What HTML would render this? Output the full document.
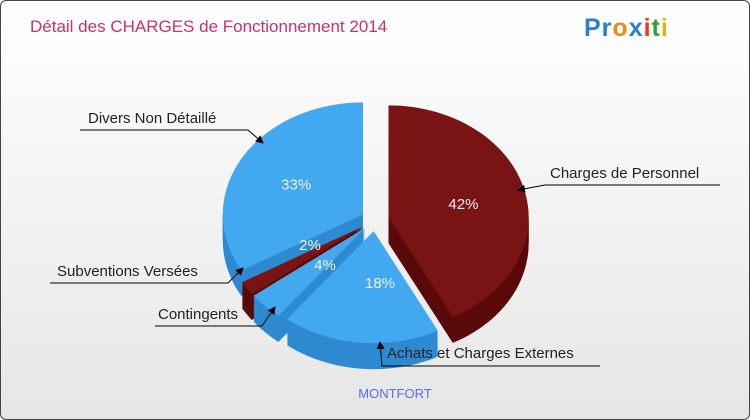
<!DOCTYPE html>
<html><head><meta charset="utf-8"><style>
body{margin:0;width:750px;height:420px;overflow:hidden;font-family:"Liberation Sans",sans-serif}
#wrap{position:absolute;left:0;top:0;width:748px;height:418px;border:1px solid #444;border-radius:6px;background:linear-gradient(#ffffff,#e6e6e6)}
</style></head><body>
<div id="wrap">
<svg width="750" height="420" style="position:absolute;left:-1px;top:-1px" id="svg">
<defs><marker id="ar" markerWidth="8" markerHeight="8" refX="7" refY="4" orient="auto"><path d="M0,0 L8,4 L0,8 z" fill="#000"/></marker></defs>
<text x="30" y="32" font-size="17" fill="#c8336a">Détail des CHARGES de Fonctionnement 2014</text>
<text x="584" y="36" font-size="25" font-weight="bold" letter-spacing="1"><tspan fill="#2a7fd0">Pr</tspan><tspan fill="#f08a10">o</tspan><tspan fill="#2a7fd0">x</tspan><tspan fill="#e83a1a">i</tspan><tspan fill="#2aa03a">t</tspan><tspan fill="#e8b010">i</tspan></text>
<text x="395" y="398" font-size="13" fill="#5a6ee6" text-anchor="middle">MONTFORT</text>
<g id="pie"></g><g id="lbl"></g>
</svg></div>
<script>
const categories=["Charges de Personnel","Achats et Charges Externes","Contingents","Subventions Versées","Divers Non Détaillé"];
const values=[42,18,4,2,33];
const pctLabels=["42%","18%","4%","2%","33%"];
const colors=["#7a1414","#42a8f0","#42a8f0","#7a1414","#42a8f0"];
const sideColors=["#5a0a0a","#2f8ad0","#2f8ad0","#5a0a0a","#2f8ad0"];
const cx=375,cy=220,rx=140,ry=112,depth=26,ex=14;
const NS="http://www.w3.org/2000/svg";
const pie=document.getElementById('pie'),lbl=document.getElementById('lbl');
const total=values.reduce((a,b)=>a+b,0);
let a=-Math.PI/2;const sl=[];
values.forEach((v,i)=>{const s=a,e=a+v/total*2*Math.PI;a=e;const m=(s+e)/2;
sl.push({i,s,e,m,ox:Math.cos(m)*ex,oy:Math.sin(m)*ex*0.8});});
function path(d,dy){let p=`M${cx+d.ox},${cy+d.oy+dy}`;const n=60;
for(let k=0;k<=n;k++){const t=d.s+(d.e-d.s)*k/n;p+=` L${cx+d.ox+rx*Math.cos(t)},${cy+d.oy+dy+ry*Math.sin(t)}`;}return p+'Z';}
[...sl].sort((x,y)=>Math.sin(x.m)-Math.sin(y.m)).forEach(d=>{
for(let y=depth;y>0;y-=1){const p=document.createElementNS(NS,'path');p.setAttribute('d',path(d,y));p.setAttribute('fill',sideColors[d.i]);


pie.appendChild(p);}});
sl.forEach(d=>{const p=document.createElementNS(NS,'path');p.setAttribute('d',path(d,0));p.setAttribute('fill',colors[d.i]);


pie.appendChild(p);
const f=d.i==0||d.i==4?0.55:0.5;
const t=document.createElementNS(NS,'text');t.setAttribute('x',cx+d.ox+rx*f*Math.cos(d.m));t.setAttribute('y',cy+d.oy+ry*f*Math.sin(d.m)+6);
t.setAttribute('fill','#f0f0f0');t.setAttribute('font-size','15');t.setAttribute('text-anchor','middle');t.textContent=pctLabels[d.i];


lbl.appendChild(t);});
const pl=lbl.querySelectorAll('text');pl[3].setAttribute('x',310);pl[3].setAttribute('y',250);pl[2].setAttribute('x',325);pl[2].setAttribute('y',270);pl[1].setAttribute('x',380);pl[1].setAttribute('y',288);
const callouts=[
{t:categories[0],x:550,y:178,line:[[720,185],[545,185],[518,190]]},
{t:categories[1],x:387,y:358,line:[[600,366],[382,366],[380,342]]},
{t:categories[2],x:158,y:319,line:[[155,326],[262,326],[275,307]]},
{t:categories[3],x:57,y:276,line:[[50,283],[228,283],[243,268]]},
{t:categories[4],x:88,y:123,line:[[80,130],[248,130],[263,143]]}];
callouts.forEach(c=>{const l=document.createElementNS(NS,'polyline');l.setAttribute('points',c.line.map(p=>p.join(',')).join(' '));
l.setAttribute('fill','none');l.setAttribute('stroke','#000');l.setAttribute('marker-end','url(#ar)');


lbl.appendChild(l);
const t=document.createElementNS(NS,'text');t.setAttribute('x',c.x);t.setAttribute('y',c.y);t.setAttribute('font-size','15');t.setAttribute('fill','#222');t.textContent=c.t;


lbl.appendChild(t);});
</script>
</body></html>
